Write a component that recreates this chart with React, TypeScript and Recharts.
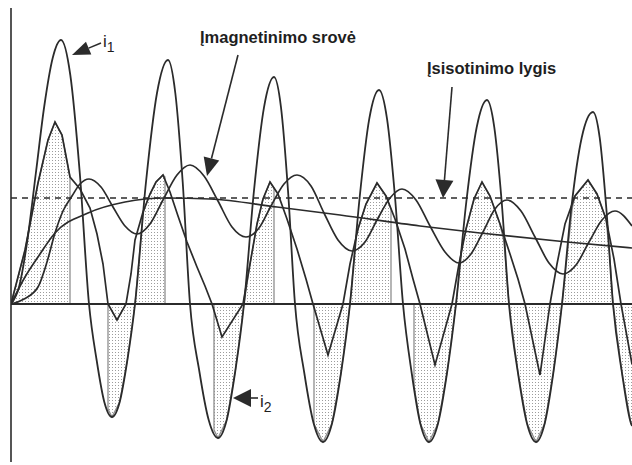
import React from 'react';
import { Area, ComposedChart, Line, ReferenceDot, ReferenceLine, XAxis, YAxis } from 'recharts';

// Srovės transformatoriaus įsisotinimas: pirminė srovė i1, antrinė i2 (taškuotas plotas),
// įmagnetinimo srovė ir įsisotinimo lygis. t – ms, i – A (santykiniai vienetai).
const INK = '#2b2b2b';
const FONT = '"Liberation Sans", Arial, sans-serif';

const T_MAX = 124.2;
const I_MIN = -15.8;
const I_MAX = 29.6;
const SATURATION = 10.6;

// pirminė srovė i1
const i1Points: [number, number][] = [
  [0, 0], [1.66, 1.8], [3.34, 6.6], [5, 13.2], [6.66, 19.8], [8.34, 24.6], [10, 26.4],
  [11.86, 22.9], [13.74, 13.2], [15.6, 0],
  [17.14, -5.65], [18.66, -9.79], [20.2, -11.3], [21.74, -9.79], [23.26, -5.65], [24.8, 0],
  [27, 12.2], [29.2, 21.1], [31.4, 24.4], [32.86, 21.1], [34.34, 12.2], [35.8, 0],
  [37.66, -6.7], [39.54, -11.6], [41.4, -13.4], [43.14, -11.6], [44.86, -6.7], [46.6, 0],
  [48.6, 11.35], [50.6, 19.66], [52.6, 22.7], [54, 19.66], [55.4, 11.35], [56.8, 0],
  [58.66, -6.9], [60.54, -11.95], [62.4, -13.8], [64.2, -11.95], [66, -6.9], [67.8, 0],
  [69.74, 10.7], [71.66, 18.53], [73.6, 21.4], [75.2, 18.53], [76.8, 10.7], [78.4, 0],
  [80.14, -6.9], [81.86, -11.95], [83.6, -13.8], [85.4, -11.95], [87.2, -6.9], [89, 0],
  [91.06, 10.2], [93.14, 17.67], [95.2, 20.4], [96.66, 17.67], [98.14, 10.2], [99.6, 0],
  [101.4, -6.9], [103.2, -11.95], [105, -13.8], [106.74, -11.95], [108.46, -6.9], [110.2, 0],
  [112.06, 9.6], [114.14, 16.63], [116.4, 19.2], [117.74, 16.63], [119.06, 9.6], [120.4, 0],
  [122.2, -6.9], [124, -11.95], [124.2, -12.2],
];

// kreivė su V formos įdubimais
const wavePoints: [number, number][] = [
  [0, 0], [2.8, 5.4], [5.4, 12.1], [7.4, 16.4], [8.8, 18.2], [10.2, 16.9], [11.8, 12.7],
  [13.8, 11.5], [15.8, 9.6], [17.2, 7.0], [18.4, 4.0], [19.4, 0], [21.2, -1.6], [23, 0],
  [24, 3.0], [24.8, 6.4], [26.4, 9.2], [27.8, 11.0], [29, 12.2], [30.4, 12.9],
  [31.8, 11.2], [33.4, 8.8], [35.2, 6.2], [37.2, 3.7], [38.8, 1.8], [40.2, 0], [42.2, -3.3], [46.4, 0],
  [47.8, 4.0], [49.2, 8.0], [50.4, 10.5], [51.8, 12.2],
  [53.4, 11.0], [55.2, 8.5], [57.2, 5.5], [59, 2.5], [60.4, 0], [63.4, -5.1], [66.4, 0],
  [67.8, 4.0], [69.4, 7.5], [71, 10.0], [73.2, 12.1],
  [75, 10.8], [76.8, 8.5], [78.8, 5.5], [80.4, 2.5], [81.8, 0], [84.8, -6.1], [88.2, 0],
  [89.6, 4.0], [91, 7.5], [92.6, 10.5], [94.2, 12.2],
  [95.8, 10.8], [97.8, 8.0], [99.8, 5.0], [101.4, 2.5], [102.8, 0], [105.8, -7.1], [107.8, 0],
  [109.2, 4.0], [110.8, 8.0], [112.8, 10.8], [115.4, 12.4],
  [117.2, 11.0], [119, 8.5], [120.6, 4.5], [122, 0], [124.2, -6.0],
];

// įmagnetinimo srovė
const magnetizingPoints: [number, number][] = [
  [0, 0], [2.6, 0.5], [5.4, 1.7], [7.2, 4.2], [8.8, 7.1], [10.4, 9.3], [12.2, 10.8], [13.8, 12.0],
  [15.6, 12.5], [18, 11.7], [20.4, 9.7], [22.8, 7.8], [25.2, 7.0], [27.8, 8.0], [30.4, 10.4],
  [33.2, 12.9], [35.8, 13.9], [38.6, 12.8], [41.4, 10.3], [44.2, 7.7], [47, 6.7], [49.6, 7.6],
  [52, 9.8], [54.6, 12.0], [57.2, 12.9], [60, 11.8], [62.6, 9.1], [65.4, 6.4], [68.2, 5.3],
  [70.8, 6.2], [73.2, 8.4], [75.8, 10.6], [78.2, 11.5], [81, 10.4], [83.8, 7.8], [86.8, 5.2],
  [89.6, 4.1], [92, 5.0], [94.4, 7.2], [96.8, 9.5], [99.2, 10.4], [102, 9.3], [104.8, 6.7],
  [107.6, 4.1], [110.4, 3.0], [113, 3.9], [115.6, 6.2], [118.2, 8.4], [120.8, 9.3], [124.2, 7.8],
];

// lėtai kintanti (aperiodinė) dedamoji
const slowPoints: [number, number][] = [
  [0, 0], [2.8, 2.7], [5.4, 4.7], [8.8, 7.1], [15.4, 9.1], [22.8, 10.2], [30.8, 10.6],
  [39.8, 10.5], [53.2, 9.7], [65.8, 8.9], [81.8, 7.8], [93.8, 7.1], [111.2, 6.2], [124.2, 5.6],
];

// antrinė srovė i2 (užtamsintas plotas)
const i2Points: [number, number][] = [
  [0, 0], [2.8, 5.4], [5.4, 12.1], [7.4, 16.4], [8.8, 18.2], [10.2, 16.9], [11.8, 12.7], [11.8, 0],
  [19.4, 0], [19.4, -10.5], [20.2, -11.3], [21.74, -9.79], [23.26, -5.65], [24.8, 0],
  [25.6, 4.4], [26.4, 9.1], [27.8, 11.0], [29, 12.2], [30.4, 12.9], [30.8, 12.7], [30.8, 0],
  [40.6, 0], [40.6, -12.6], [41.4, -13.4], [43.14, -11.6], [44.86, -6.7], [46.6, 0],
  [47.8, 4.0], [49.2, 8.0], [50.4, 10.5], [51.8, 12.2], [52.6, 11.6], [52.6, 0],
  [60.6, 0], [60.6, -12.0], [62.4, -13.8], [64.2, -11.95], [66, -6.9], [67.8, 0],
  [68.4, 3.5], [69, 6.7], [69.4, 7.5], [71, 10.0], [73.2, 12.1], [75, 10.8], [76, 9.5], [76, 0],
  [80.6, 0], [80.6, -8.2], [81.86, -11.95], [83.6, -13.8], [85.4, -11.95], [87.2, -6.9], [89, 0],
  [89.6, 3.1], [90, 5.2], [91, 7.5], [92.6, 10.5], [94.2, 12.2], [95.8, 10.8], [97.8, 8.0], [98.6, 6.2], [99.6, 0],
  [101.4, -6.9], [103.2, -11.95], [105, -13.8], [106.74, -11.95], [108.46, -6.9], [110.2, 0],
  [111, 3.8], [112.26, 9.6], [112.8, 10.8], [115.4, 12.4], [117.2, 11.0], [119, 8.5], [119.8, 4.5], [120.4, 0],
  [122.2, -6.9], [124, -11.95], [124.2, -12.2],
];

const toRows = (pts: [number, number][]) => pts.map(([t, i]) => ({ t, i }));

const arrowShape = (len: number, half: number) => (p: any) => {
  const { x1, y1, x2, y2 } = p;
  const dx = x2 - x1;
  const dy = y2 - y1;
  const d = Math.hypot(dx, dy) || 1;
  const ux = dx / d;
  const uy = dy / d;
  const bx = x2 - ux * len;
  const by = y2 - uy * len;
  const px = -uy * half;
  const py = ux * half;
  return (
    <g>
      <line x1={x1} y1={y1} x2={bx} y2={by} stroke={INK} strokeWidth={1.6} />
      <polygon points={`${x2},${y2} ${bx + px},${by + py} ${bx - px},${by - py}`} fill={INK} />
    </g>
  );
};

const textShape = (main: string, sub?: string, bold = false) => (p: any) => (
  <text x={p.cx} y={p.cy} fill="#1e1e1e" fontFamily={FONT} fontSize={bold ? 16.5 : 17} fontWeight={bold ? 700 : 400}>
    {main}
    {sub && (
      <tspan dy={5} fontSize={14}>
        {sub}
      </tspan>
    )}
  </text>
);

export default function App() {
  return (
    <div style={{ position: 'absolute', left: 0, top: 0, width: 632, height: 465, background: '#fff' }}>
      <ComposedChart width={632} height={465} margin={{ top: 8, right: 0, bottom: 3, left: 11 }}>
        <defs>
          <pattern id="dots" width="3" height="3" patternUnits="userSpaceOnUse">
            <rect x="1" y="1" width="1" height="1" fill="#9c9c9c" />
          </pattern>
        </defs>
        <XAxis type="number" dataKey="t" domain={[0, T_MAX]} hide allowDataOverflow />
        <YAxis type="number" dataKey="i" domain={[I_MIN, I_MAX]} hide allowDataOverflow />
        <Area
          data={toRows(i2Points)}
          dataKey="i"
          type="linear"
          baseValue={0}
          stroke="#8f8f8f"
          strokeWidth={1.3}
          fill="url(#dots)"
          fillOpacity={1}
          dot={false}
          activeDot={false}
          isAnimationActive={false}
        />
        <ReferenceLine y={0} stroke={INK} strokeWidth={2} />
        <ReferenceLine x={0} stroke={INK} strokeWidth={1.6} />
        <ReferenceLine y={SATURATION} stroke={INK} strokeWidth={1.3} strokeDasharray="6 5" />
        <Line data={toRows(slowPoints)} dataKey="i" type="monotone" stroke={INK} strokeWidth={1.7} dot={false} activeDot={false} isAnimationActive={false} />
        <Line data={toRows(magnetizingPoints)} dataKey="i" type="monotone" stroke={INK} strokeWidth={1.7} dot={false} activeDot={false} isAnimationActive={false} />
        <Line data={toRows(wavePoints)} dataKey="i" type="linear" stroke={INK} strokeWidth={1.7} dot={false} activeDot={false} isAnimationActive={false} />
        <Line data={toRows(i1Points)} dataKey="i" type="monotone" stroke={INK} strokeWidth={1.8} dot={false} activeDot={false} isAnimationActive={false} />

        <ReferenceLine segment={[{ x: 18, y: 26.1 }, { x: 12.2, y: 24.9 }]} shape={arrowShape(18, 7)} />
        <ReferenceLine segment={[{ x: 45.4, y: 24.9 }, { x: 39.2, y: 12.8 }]} shape={arrowShape(18, 8)} />
        <ReferenceLine segment={[{ x: 88.2, y: 21.7 }, { x: 86.4, y: 10.6 }]} shape={arrowShape(18, 9)} />
        <ReferenceLine segment={[{ x: 49.4, y: -9.4 }, { x: 44.4, y: -9.4 }]} shape={arrowShape(18, 9)} />

        <ReferenceDot x={18.4} y={25.7} shape={textShape('i', '1')} />
        <ReferenceDot x={37.8} y={26.1} shape={textShape('Įmagnetinimo srovė', undefined, true)} />
        <ReferenceDot x={83.2} y={23.0} shape={textShape('Įsisotinimo lygis', undefined, true)} />
        <ReferenceDot x={49.8} y={-10.3} shape={textShape('i', '2')} />
      </ComposedChart>
    </div>
  );
}
